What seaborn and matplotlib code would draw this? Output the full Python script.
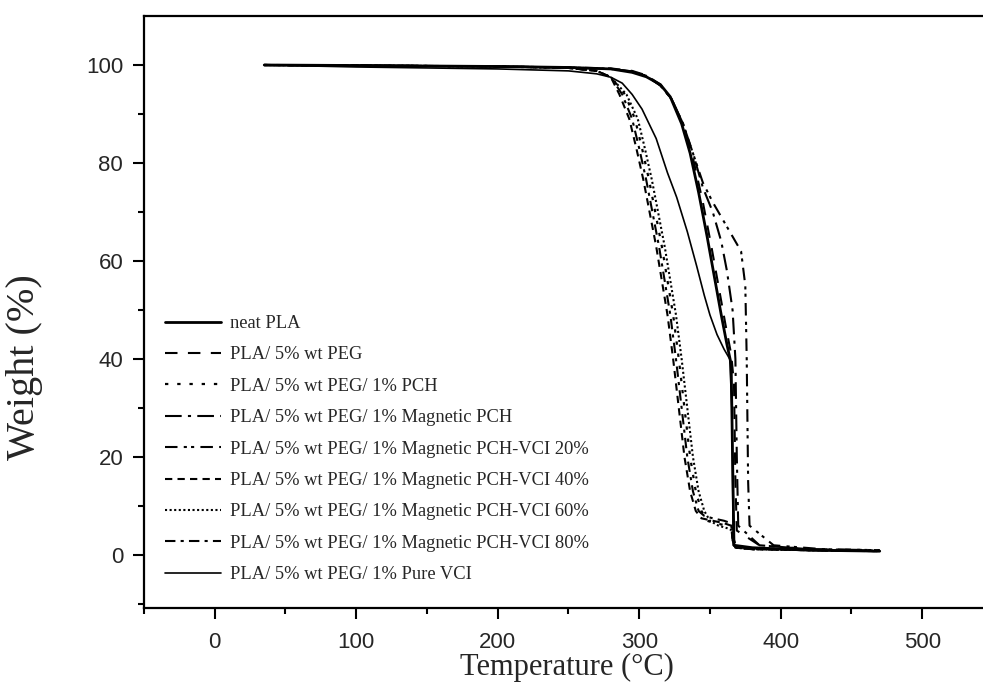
import matplotlib
matplotlib.use("Agg")
import matplotlib.pyplot as plt
import seaborn as sns

# ---------------- data ----------------
labels = [
    "neat PLA",
    "PLA/ 5% wt PEG",
    "PLA/ 5% wt PEG/ 1% PCH",
    "PLA/ 5% wt PEG/ 1% Magnetic PCH",
    "PLA/ 5% wt PEG/ 1% Magnetic PCH-VCI 20%",
    "PLA/ 5% wt PEG/ 1% Magnetic PCH-VCI 40%",
    "PLA/ 5% wt PEG/ 1% Magnetic PCH-VCI 60%",
    "PLA/ 5% wt PEG/ 1% Magnetic PCH-VCI 80%",
    "PLA/ 5% wt PEG/ 1% Pure VCI",
]

t_neat = [35, 100, 200, 250, 280, 295, 305, 315, 322, 330, 336, 342, 348, 353, 358, 362, 365, 366, 367, 380, 420, 470]
w_neat = [100, 99.9, 99.7, 99.5, 99.2, 98.5, 97.6, 96, 93.5, 88, 82, 74, 65, 57, 49, 43, 39, 20, 2, 1.5, 1.0, 0.8]

t_peg = [35, 100, 200, 250, 280, 295, 305, 315, 323, 331, 338, 345, 351, 356, 361, 365, 367, 368, 369, 385, 420, 470]
w_peg = [100, 99.9, 99.7, 99.5, 99.3, 98.8, 97.9, 96, 93, 88, 81, 72, 63, 55, 47, 41, 35, 15, 5, 2, 1.2, 0.9]

t_pch = [35, 100, 200, 250, 270, 280, 290, 297, 302, 307, 312, 316, 320, 324, 328, 332, 336, 340, 344, 348, 354, 362, 366, 367, 369, 380, 420, 470]
w_pch = [100, 99.9, 99.7, 99.4, 98.8, 97.5, 94, 89, 83, 76.5, 69, 63, 56, 49, 40, 30, 20, 13, 9, 7, 6.5, 6, 5.5, 3, 1.5, 1.2, 1.0, 0.8]

t_mpch = [35, 100, 200, 250, 280, 295, 305, 315, 323, 331, 338, 345, 352, 358, 362, 366, 368, 369, 370, 385, 420, 470]
w_mpch = [100, 99.9, 99.7, 99.5, 99.2, 98.7, 97.8, 95.8, 93, 88, 82, 75, 70, 64, 58, 50, 40, 20, 6, 2, 1.2, 1.0]

t_v20 = [35, 100, 200, 250, 280, 295, 305, 315, 323, 331, 338, 345, 352, 360, 366, 372, 375, 376, 377, 378, 395, 430, 470]
w_v20 = [100, 99.9, 99.7, 99.5, 99.2, 98.7, 97.8, 95.8, 93, 88, 82, 76, 72, 68, 65, 62, 55, 40, 15, 6, 2, 1.2, 1.0]

t_v40 = [35, 100, 200, 250, 270, 280, 286, 293, 298, 303, 308, 312, 316, 320, 324, 328, 332, 336, 340, 344, 352, 360, 365, 366, 368, 380, 420, 470]
w_v40 = [100, 99.9, 99.7, 99.4, 98.8, 97.5, 94, 89, 83, 76.5, 69, 63, 56, 49, 40, 30, 20, 13, 9, 7.5, 7, 6.5, 6, 3, 1.5, 1.2, 1.0, 0.8]

t_v60 = [35, 100, 200, 250, 270, 280, 291, 299, 304, 309, 314, 318, 322, 326, 330, 334, 338, 342, 346, 350, 356, 362, 366, 367, 369, 380, 420, 470]
w_v60 = [100, 99.9, 99.7, 99.4, 98.8, 97.5, 94, 89, 83, 76.5, 69, 63, 56, 49, 40, 30, 20, 13, 9, 7, 6, 5.5, 5, 3, 1.5, 1.2, 1.0, 0.8]

t_v80 = [35, 100, 200, 250, 270, 280, 288, 295, 300, 305, 310, 314, 318, 322, 326, 330, 334, 338, 342, 346, 352, 360, 365, 366, 368, 380, 420, 470]
w_v80 = [100, 99.9, 99.7, 99.4, 98.8, 97.5, 94, 89, 83, 76.5, 69, 63, 56, 49, 40, 30, 20, 13, 9, 8, 7.5, 7, 6.5, 3, 1.5, 1.2, 1.0, 0.8]

t_vci = [35, 100, 200, 250, 270, 280, 288, 295, 302, 312, 320, 326.5, 334, 340.6, 346, 350, 355, 360, 364, 365.5, 366.5, 368, 380, 420, 470]
w_vci = [100, 99.6, 99.2, 98.8, 98.2, 97.5, 96.3, 94, 91, 85, 78, 73, 66, 59, 53, 49, 45, 42, 40, 30, 2, 1.6, 1.3, 1.0, 0.8]

x_ticks = [0, 100, 200, 300, 400, 500]
y_ticks = [0, 20, 40, 60, 80, 100]

# ---------------- styling ----------------
series = [
    (t_neat, w_neat, "-", 2.0),
    (t_peg, w_peg, (0, (6, 5)), 1.5),
    (t_pch, w_pch, (0, (1.5, 4)), 1.6),
    (t_mpch, w_mpch, (0, (8, 3, 1.5, 3)), 1.5),
    (t_v20, w_v20, (0, (6, 3, 1.5, 2, 1.5, 3)), 1.5),
    (t_v40, w_v40, (0, (3.5, 2.5)), 1.5),
    (t_v60, w_v60, (0, (1, 1.2)), 1.5),
    (t_v80, w_v80, (0, (5, 2.5, 1.5, 2.5)), 1.5),
    (t_vci, w_vci, "-", 1.2),
]

sns.set_style("ticks")
plt.rcParams["font.family"] = ["Liberation Sans", "DejaVu Sans"]
serif = ["Liberation Serif", "DejaVu Serif"]

fig = plt.figure(figsize=(9.83, 6.85), dpi=100)
ax = fig.add_axes([144 / 983, 1 - 608 / 685, (983 - 144) / 983, (608 - 16) / 685])

for (t, w, ls, lw), lab in zip(series, labels):
    sns.lineplot(x=t, y=w, ax=ax, color="black", linestyle=ls, linewidth=lw,
                 label=lab, sort=False, estimator=None)

ax.set_xlim(-50, 543)
ax.set_ylim(-10.8, 110)
ax.set_xticks(x_ticks)
ax.set_yticks(y_ticks)
ax.set_xticks([-50, 50, 150, 250, 350, 450], minor=True)
ax.set_yticks([-10, 10, 30, 50, 70, 90], minor=True)
ax.tick_params(axis="both", which="major", direction="out", length=8, width=1.5,
               labelsize=16, color="black")
ax.tick_params(axis="both", which="minor", direction="out", length=4.5, width=1.5,
               color="black")
ax.tick_params(axis="x", which="major", pad=9)
ax.tick_params(axis="y", which="major", pad=7)

for side in ["left", "bottom", "top"]:
    ax.spines[side].set_linewidth(1.6)
    ax.spines[side].set_color("black")
ax.spines["right"].set_visible(False)

ax.set_xlabel("Temperature (°C)", family=serif, fontsize=22)
ax.xaxis.set_label_coords((567 - 144) / 839, (608 - 653) / 592)
ax.set_ylabel("Weight (%)", family=serif, fontsize=29)
ax.yaxis.set_label_coords((43 - 144) / 839, (608 - 367) / 592)

leg = ax.legend(loc="upper left", bbox_to_anchor=(0.025, (608 - 315) / 592),
                frameon=False, prop={"family": "Liberation Serif", "size": 13.3},
                handlelength=3.05, handletextpad=0.45, labelspacing=0.78,
                borderaxespad=0, borderpad=0)

fig.savefig("out.png", dpi=100, facecolor="white")
